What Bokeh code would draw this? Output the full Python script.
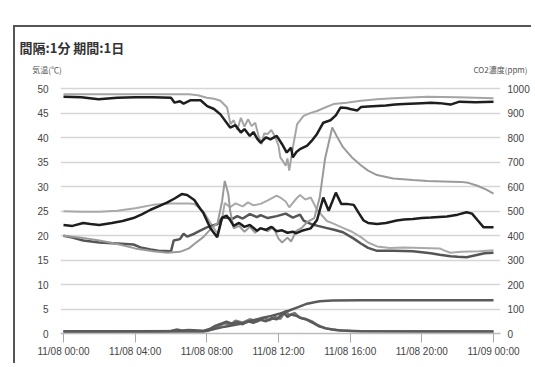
from bokeh.plotting import figure
from bokeh.models import Range1d, LinearAxis, FixedTicker, Title
from bokeh.embed import file_html
from bokeh.resources import INLINE

# ---- data (hours from 11/08 00:00) ----
x_ticks = [0, 4, 8, 12, 16, 20, 24]
x_tick_labels = ["11/08 00:00", "11/08 04:00", "11/08 08:00", "11/08 12:00",
                 "11/08 16:00", "11/08 20:00", "11/09 00:00"]
left_ticks = [0, 5, 10, 15, 20, 25, 30, 35, 40, 45, 50]
right_ticks = [0, 100, 200, 300, 400, 500, 600, 700, 800, 900, 1000]
title_text = "間隔:1分  期間:1日"
left_unit = "気温(℃)"
right_unit = "CO2濃度(ppm)"

a_t = [0, 1, 1.96, 3, 4, 5, 6, 6.2, 6.5, 6.7, 7.1, 7.65, 8.02, 8.4, 8.76, 9.3, 9.6, 9.9,
       10.1, 10.4, 10.6, 10.8, 11.0, 11.3, 11.55, 11.9, 12.2, 12.46, 12.7, 12.8, 13.0, 13.2,
       13.6, 13.9, 14.15, 14.5, 14.9, 15.2, 15.46, 15.8, 16.0, 16.4, 16.6, 17, 18, 18.5, 19,
       20, 20.5, 21, 21.6, 22.1, 23, 24]
a_v = [48.4, 48.3, 47.9, 48.2, 48.3, 48.3, 48.2, 47.2, 47.5, 47.0, 47.7, 47.7, 46.5, 45.9,
       44.8, 42.1, 42.6, 41.1, 41.8, 40.4, 41.2, 39.9, 39.0, 40.1, 39.7, 40.4, 38.7, 37.0,
       38.0, 36.0, 37.1, 37.7, 38.4, 39.6, 40.8, 43.1, 43.6, 44.6, 46.2, 46.1, 45.9, 45.6,
       46.3, 46.4, 46.6, 46.8, 46.9, 47.1, 47.2, 47.1, 46.8, 47.4, 47.3, 47.4]

b_t = [0, 2, 4, 6, 7.0, 7.5, 8.0, 8.4, 8.76, 9.13, 9.32, 9.5, 9.7, 9.9, 10.1, 10.3, 10.5,
       10.7, 10.9, 11.05, 11.2, 11.4, 11.6, 11.8, 12.0, 12.1, 12.25, 12.4, 12.5, 12.6, 12.8,
       13.04, 13.4, 13.8, 14.15, 14.6, 15.07, 15.8, 16.6, 17.5, 18.4, 20.3, 22, 24]
b_v = [48.9, 48.9, 48.9, 48.9, 48.9, 48.7, 48.2, 48.0, 47.6, 46.2, 42.8, 43.6, 41.6, 44.1,
       42.3, 43.8, 42.4, 43.1, 40.2, 38.7, 40.9, 40.8, 41.6, 40.3, 38.4, 36.0, 35.2, 34.3,
       35.8, 33.3, 38.0, 42.8, 44.5, 45.1, 45.5, 46.2, 46.9, 47.2, 47.6, 47.9, 48.1, 48.4,
       48.3, 48.1]

c_t = [0, 0.5, 1.1, 1.5, 2.0, 2.7, 3.3, 3.9, 4.4, 4.86, 5.3, 5.8, 6.2, 6.6, 6.9, 7.1, 7.3,
       7.65, 7.8, 8.2, 8.58, 8.85, 9.1, 9.3, 9.5, 9.8, 10.1, 10.4, 10.8, 11.0, 11.3, 11.6,
       11.9, 12.2, 12.5, 12.8, 13.0, 13.3, 13.8, 14.15, 14.5, 14.8, 15.2, 15.5, 15.8, 16.2,
       16.5, 16.75, 17.0, 17.5, 18.0, 18.6, 19.0, 19.5, 20.0, 20.5, 21.4, 22.0, 22.5, 22.8,
       23.1, 23.45, 24]
c_v = [22.2, 22.0, 22.6, 22.4, 22.2, 22.6, 23.0, 23.6, 24.4, 25.3, 26.0, 26.8, 27.6, 28.5,
       28.3, 27.8, 27.3, 25.4, 24.7, 21.5, 19.7, 23.7, 24.1, 23.2, 22.0, 22.6, 21.8, 22.2,
       21.0, 21.5, 21.2, 21.8, 20.9, 21.1, 20.6, 20.8, 20.5, 21.0, 21.5, 23.2, 27.8, 25.1,
       28.8, 26.5, 26.5, 26.3, 24.5, 23.1, 22.6, 22.4, 22.6, 23.1, 23.3, 23.4, 23.6, 23.7,
       23.9, 24.3, 24.8, 24.5, 23.2, 21.7, 21.7]

d_t = [0, 1, 2, 3, 4, 5, 6, 7, 7.3, 7.8, 8.3, 8.6, 8.85, 9.0, 9.3, 9.6, 10.0, 10.3, 10.6,
       11.0, 11.4, 11.9, 12.1, 12.4, 12.6, 13.0, 13.2, 13.5, 13.8, 14.15, 14.7, 15.1, 15.6,
       16.1, 16.6, 17.0, 17.5, 18.2, 19, 20, 21.0, 21.3, 21.6, 22.2, 23.2, 24]
d_v = [25.0, 24.9, 24.9, 25.1, 25.6, 26.3, 26.6, 26.6, 26.5, 25.0, 22.0, 20.4, 23.5, 26.7,
       25.8, 26.6, 26.0, 26.8, 26.2, 26.5, 27.2, 28.2, 27.8, 27.0, 25.8, 27.6, 28.3, 27.4,
       27.8, 25.3, 23.0, 22.4, 21.6, 20.8, 19.7, 18.6, 17.8, 17.5, 17.6, 17.5, 17.4, 16.9,
       16.5, 16.7, 16.8, 17.0]

e_t = [0, 0.5, 1.1, 2.0, 3.0, 3.9, 4.3, 4.86, 5.3, 6.0, 6.15, 6.5, 6.7, 6.9, 7.3, 7.6, 8.0,
       8.6, 8.85, 9.1, 9.4, 9.7, 10.0, 10.4, 10.8, 11.0, 11.4, 11.9, 12.4, 12.8, 13.2, 13.4,
       13.8, 14.2, 14.65, 15.1, 15.6, 16.2, 16.6, 17.0, 17.5, 18.4, 19.5, 20.5, 21.0, 21.6,
       22.0, 22.5, 23.0, 23.5, 24]
e_v = [20.0, 19.6, 19.0, 18.6, 18.4, 18.2, 17.6, 17.2, 16.9, 16.8, 19.0, 19.3, 20.4, 19.8,
       20.4, 21.0, 21.7, 22.4, 23.6, 23.7, 23.4, 24.0, 23.5, 24.4, 23.8, 24.2, 23.6, 24.0,
       24.5, 23.7, 24.3, 23.1, 22.4, 22.0, 21.6, 21.2, 20.7, 19.4, 18.4, 17.5, 16.9, 16.9,
       16.8, 16.4, 16.1, 15.8, 15.7, 15.6, 16.0, 16.4, 16.5]

co2_t = [0, 1, 2, 3, 4, 5, 5.8, 6.5, 7.0, 7.3, 7.8, 8.3, 8.6, 8.85, 9.0, 9.2, 9.3, 9.5, 9.8,
         10.1, 10.4, 10.7, 11.0, 11.4, 11.7, 12.0, 12.2, 12.5, 12.7, 13.0, 13.3, 13.6, 14.0,
         14.3, 14.6, 15.0, 15.3, 15.6, 16.1, 16.6, 17.0, 17.5, 18.4, 19.5, 20.3, 21.2, 22.15,
         22.6, 23.1, 23.6, 24]
co2_ppm = [400, 392, 380, 366, 348, 336, 330, 334, 348, 366, 394, 434, 452, 540, 624, 570,
           502, 430, 440, 416, 436, 412, 432, 418, 436, 388, 372, 392, 376, 420, 432, 456,
           472, 556, 716, 842, 800, 762, 720, 688, 666, 648, 634, 628, 624, 622, 620, 616,
           604, 588, 572]

g_t = [0, 7.8, 8.3, 9.0, 9.9, 10.5, 11.0, 11.6, 12.1, 12.6, 13.1, 13.6, 14.0, 14.3, 15.0,
       16.6, 24]
g_v = [0.4, 0.4, 0.8, 1.4, 2.0, 2.6, 3.1, 3.6, 4.1, 4.7, 5.4, 6.1, 6.4, 6.6, 6.75, 6.8, 6.8]

h_t = [0, 5.5, 6.0, 6.3, 6.6, 7.0, 7.5, 7.8, 8.2, 8.5, 8.8, 9.1, 9.4, 9.7, 10.0, 10.3,
       10.6, 11.0, 11.3, 11.6, 11.9, 12.1, 12.3, 12.5, 12.7, 13.0, 13.3, 13.6, 14.0, 14.3,
       14.7, 15.0, 15.5, 16.6, 20, 24]
h_v = [0.4, 0.4, 0.5, 0.8, 0.6, 0.7, 0.6, 0.5, 1.0, 1.6, 2.0, 2.4, 2.0, 2.3, 1.9, 2.5, 2.2,
       2.8, 2.5, 3.1, 2.9, 3.6, 4.2, 3.4, 3.9, 3.6, 3.1, 2.8, 2.0, 1.4, 1.0, 0.8, 0.6, 0.45,
       0.4, 0.4]

k_t = [0, 8.0, 8.5, 9.0, 9.3, 9.6, 10.0, 10.4, 10.8, 11.2, 11.5, 11.8, 12.1, 12.4, 12.6,
       12.9, 13.2, 13.5, 13.9, 14.2, 14.6, 15.2, 16, 24]
k_v = [0.4, 0.5, 1.2, 2.1, 1.8, 2.6, 2.2, 2.9, 2.5, 3.2, 2.7, 3.4, 3.0, 4.6, 3.7, 4.2, 3.2,
       3.0, 2.4, 1.7, 1.1, 0.7, 0.5, 0.4]

TICK_FONT = "Liberation Sans"
CJK_FONT = "Noto Sans CJK JP"

p = figure(width=518, height=338, x_range=Range1d(-0.167, 24.39), y_range=Range1d(0, 50.5),
           output_backend="svg", toolbar_location=None,
           min_border_left=45, min_border_right=33, min_border_top=59, min_border_bottom=32,
           background_fill_color="white", border_fill_color="white")
p.margin = (27, 0, 0, 15)
p.styles = {"box-shadow": "-2px -2px 0 0 #555555"}
p.outline_line_color = None
p.extra_y_ranges = {"co2": Range1d(0, 1010)}
p.extra_x_ranges = {"units": Range1d(0, 1)}

p.xgrid.visible = False
p.ygrid.ticker = FixedTicker(ticks=left_ticks)
p.ygrid.grid_line_color = "#d6d6d6"
p.ygrid.grid_line_width = 1.5

xa = p.xaxis[0]
xa.ticker = FixedTicker(ticks=x_ticks)
xa.major_label_overrides = {t: l for t, l in zip(x_ticks, x_tick_labels)}
xa.axis_line_color = "#bbbbbb"
xa.axis_line_width = 1.5
xa.major_tick_line_color = "#aaaaaa"
xa.major_tick_out = 9
xa.major_tick_in = 0
xa.minor_tick_line_color = None
xa.minor_tick_out = 0
xa.major_label_text_font = TICK_FONT
xa.major_label_text_font_size = "10px"
xa.major_label_text_color = "#444444"
xa.major_label_standoff = 3

ya = p.yaxis[0]
ya.ticker = FixedTicker(ticks=left_ticks)
ya.axis_line_color = None
ya.major_tick_line_color = None
ya.minor_tick_line_color = None
ya.major_tick_out = 0
ya.minor_tick_out = 0
ya.major_label_text_font = TICK_FONT
ya.major_label_text_font_size = "10px"
ya.major_label_text_color = "#444444"
ya.major_label_standoff = 12

ra = LinearAxis(y_range_name="co2", ticker=FixedTicker(ticks=right_ticks))
ra.axis_line_color = None
ra.major_tick_line_color = None
ra.minor_tick_line_color = None
ra.major_tick_out = 0
ra.minor_tick_out = 0
ra.major_label_text_font = TICK_FONT
ra.major_label_text_font_size = "10px"
ra.major_label_text_color = "#444444"
ra.major_label_standoff = 7
p.add_layout(ra, "right")

# unit labels row (axis above the frame carrying only two labels)
ua = LinearAxis(x_range_name="units", ticker=FixedTicker(ticks=[0, 1]))
ua.major_label_overrides = {0: left_unit + "\u00a0" * 15, 1: right_unit}
ua.axis_line_color = None
ua.major_tick_line_color = None
ua.minor_tick_line_color = None
ua.major_tick_out = 0
ua.minor_tick_out = 0
ua.major_label_text_font = CJK_FONT
ua.major_label_text_font_size = "8px"
ua.major_label_text_color = "#555555"
ua.major_label_standoff = 12
p.add_layout(ua, "above")

p.add_layout(Title(text=title_text, align="left", offset=-41, standoff=8,
                   text_font=CJK_FONT, text_font_style="bold", text_font_size="13px",
                   text_color="#333333"), "above")

# lines
p.line(d_t, d_v, line_color="#a9a9a9", line_width=2)
p.line(e_t, e_v, line_color="#555555", line_width=2.5)
p.line(co2_t, co2_ppm, y_range_name="co2", line_color="#9a9a9a", line_width=2)
p.line(c_t, c_v, line_color="#1e1e1e", line_width=2.5)
p.line(b_t, b_v, line_color="#a5a5a5", line_width=2)
p.line(a_t, a_v, line_color="#1e1e1e", line_width=2.5)
p.line(k_t, k_v, line_color="#7a7a7a", line_width=2.5)
p.line(h_t, h_v, line_color="#5a5a5a", line_width=2.5)
p.line(g_t, g_v, line_color="#5a5a5a", line_width=2.5)

open("out.html", "w").write(file_html(p, INLINE))
